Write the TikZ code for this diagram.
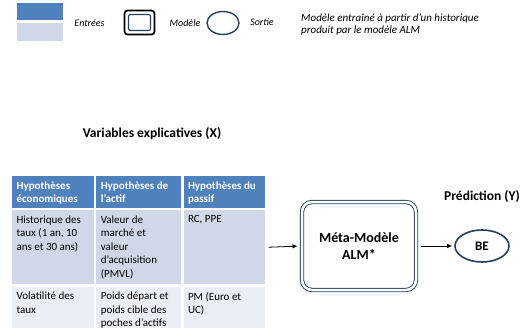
\documentclass[tikz,border=0pt]{standalone}
\usepackage{fontspec}
\setmainfont{Carlito}
\usepackage{tikz}
\usetikzlibrary{positioning,arrows.meta,shapes.geometric}
\definecolor{hdrblue}{HTML}{4F81BD}
\definecolor{rowone}{HTML}{D0D8E8}
\definecolor{rowtwo}{HTML}{E9EDF4}
\definecolor{navy}{HTML}{243F60}
\newcommand{\celltext}[3]{\parbox[b][#1][t]{#2}{\raggedright #3}}

\begin{document}
\begin{tikzpicture}[
  x=1pt, y=-1pt,
  cell/.style={draw=white, line width=1.2pt, inner xsep=5pt, inner ysep=6pt, font=\fontsize{11}{13.4}\selectfont},
  hdr/.style={cell, fill=hdrblue, text=white, font=\fontsize{11}{13.4}\selectfont\bfseries},
  legtxt/.style={font=\fontsize{10}{12}\selectfont\itshape, inner sep=0pt},
  title/.style={font=\fontsize{13.5}{16}\selectfont\bfseries, inner sep=0pt},
  model/.style={draw=navy, line width=0.9pt, double=white, double distance=2.5pt, rounded corners=10pt,
                minimum width=114pt, minimum height=88pt, align=center, font=\fontsize{14}{17}\selectfont\bfseries},
  arr/.style={-{Latex[length=5pt,width=4.5pt]}, line width=0.8pt, black}
]
  \useasboundingbox (0,0) rectangle (527,331);

  % Legend
  \node[fill=hdrblue, minimum width=46pt, minimum height=17pt, inner sep=0pt] (legin1) at (40,11.5) {};
  \node[fill=rowone, minimum width=46pt, minimum height=18pt, inner sep=0pt, below=3pt of legin1] (legin2) {};
  \node[legtxt] (legintxt) at (89.5,23) {Entrées};
  \node[draw=black, line width=1.7pt, rounded corners=3pt, minimum width=30pt, minimum height=24pt, inner sep=0pt] (legmod) at (139.5,22.5) {};
  \node[draw=navy, line width=1.2pt, rounded corners=2pt, minimum width=22pt, minimum height=16pt, inner sep=0pt] (legmodin) at (legmod) {};
  \node[legtxt] (legmodtxt) at (185,23) {Modèle};
  \node[draw=navy, line width=1.4pt, ellipse, minimum width=32pt, minimum height=23pt, inner sep=0pt] (legout) at (223,23) {};
  \node[legtxt] (legouttxt) at (262,22.5) {Sortie};
  \node[legtxt, font=\fontsize{11}{12}\selectfont\itshape, anchor=west, align=left] (legnote) at (301,25) {Modèle entraîné à partir d’un historique\\produit par le modèle ALM};

  % Table of explanatory variables
  \node[title] (xtitle) at (152,134) {Variables explicatives (X)};
  \node[hdr, anchor=north west] (h1) at (11,175) {\celltext{21pt}{73pt}{Hypothèses\\économiques}};
  \node[hdr, right=0pt of h1] (h2) {\celltext{21pt}{76pt}{Hypothèses de\\l’actif}};
  \node[hdr, right=0pt of h2] (h3) {\celltext{21pt}{73pt}{Hypothèses du\\passif}};

  \node[cell, fill=rowone, below=0pt of h1] (r1c1) {\celltext{63pt}{73pt}{Historique des\\taux (1 an, 10\\ans et 30 ans)}};
  \node[cell, fill=rowone, below=0pt of h2] (r1c2) {\celltext{63pt}{76pt}{Valeur de\\marché et\\valeur\\d’acquisition\\(PMVL)}};
  \node[cell, fill=rowone, below=0pt of h3] (r1c3) {\celltext{63pt}{73pt}{RC, PPE}};

  \node[cell, fill=rowtwo, below=0pt of r1c1] (r2c1) {\celltext{31pt}{73pt}{Volatilité des\\taux}};
  \node[cell, fill=rowtwo, below=0pt of r1c2] (r2c2) {\celltext{31pt}{76pt}{Poids départ et\\poids cible des\\poches d’actifs}};
  \node[cell, fill=rowtwo, below=0pt of r1c3] (r2c3) {\celltext{31pt}{73pt}{PM (Euro et\\UC)}};

  % Meta-model and prediction
  \node[model] (meta) at (359,246) {Méta-Modèle\\ALM*};
  \node[draw=navy, line width=1.6pt, ellipse, minimum width=54pt, minimum height=32pt, inner sep=0pt,
        font=\fontsize{13}{15}\selectfont\bfseries] (be) at (482,246) {BE};
  \node[title, above=26pt of be] (ytitle) {Prédiction (Y)};

  % Arrows
  \draw[arr, shorten <=2pt, shorten >=4pt] (r1c3.east) -- (meta.west);
  \draw[arr, shorten <=5pt, shorten >=2pt] (meta.east) -- (be.west);
\end{tikzpicture}
\end{document}
